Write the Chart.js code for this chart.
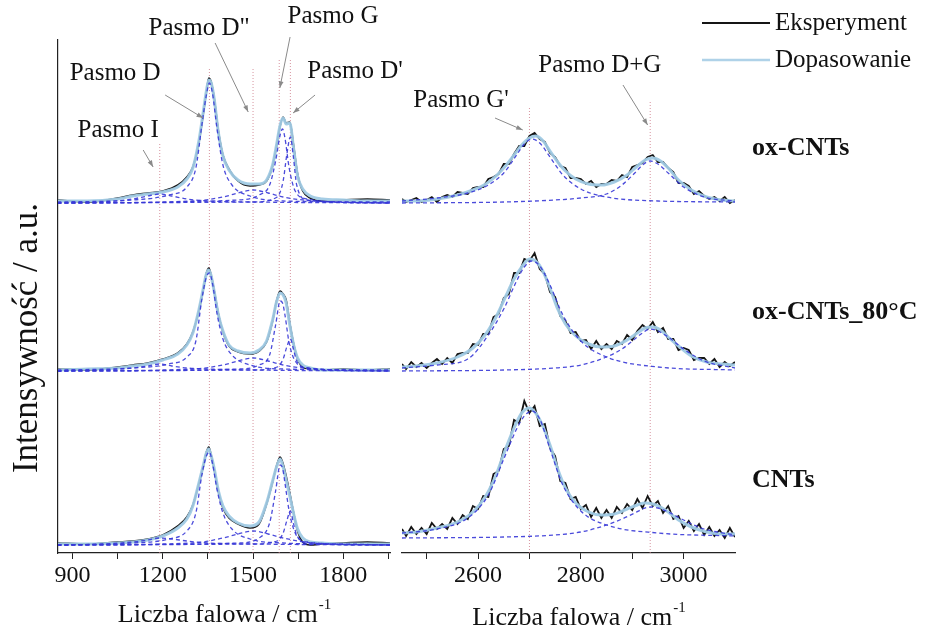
<!DOCTYPE html>
<html>
<head>
<meta charset="utf-8">
<script src="https://cdn.jsdelivr.net/npm/chart.js@4.4.0/dist/chart.umd.min.js"></script>
<style>
  html, body { margin: 0; padding: 0; background: #fff; }
  #wrap { position: relative; width: 930px; height: 631px; overflow: hidden; }
  canvas { position: absolute; top: 0; }
  #cLeft { left: 0; }
  #cRight { left: 390px; }
</style>
</head>
<body>
<div id="wrap">
  <canvas id="cLeft" width="420" height="631"></canvas>
  <canvas id="cRight" width="540" height="631"></canvas>
</div>
<script>
// ---- wavenumber grids ----
const xLeft = [850, 950, 1050, 1100, 1150, 1200, 1250, 1280, 1300, 1320, 1335, 1345, 1353, 1360, 1370, 1385, 1400, 1420, 1450, 1490, 1520, 1545, 1565, 1578, 1590, 1600, 1610, 1622, 1635, 1648, 1665, 1690, 1730, 1800, 1880, 1955];
const xRight = [2452, 2480, 2520, 2560, 2590, 2615, 2635, 2655, 2670, 2685, 2700, 2712, 2725, 2740, 2755, 2770, 2790, 2815, 2840, 2865, 2890, 2910, 2925, 2940, 2955, 2970, 2990, 3015, 3045, 3075, 3100];
const xRightExp = [2452, 2460, 2470, 2480, 2490, 2500, 2510, 2520, 2530, 2540, 2550, 2560, 2570, 2580, 2590, 2600, 2610, 2620, 2630, 2640, 2650, 2660, 2670, 2680, 2690, 2700, 2710, 2720, 2730, 2740, 2750, 2760, 2770, 2780, 2790, 2800, 2810, 2820, 2830, 2840, 2850, 2860, 2870, 2880, 2890, 2900, 2910, 2920, 2930, 2940, 2950, 2960, 2970, 2980, 2990, 3000, 3010, 3020, 3030, 3040, 3050, 3060, 3070, 3080, 3090, 3100];

// ---- spectra, stacked (a.u.): ox-CNTs on top, ox-CNTs_80°C, CNTs ----
const fitLeftOx = [352, 352, 354, 357, 359, 361, 366, 374, 385, 412, 442, 462, 473, 471, 456, 420, 397, 383, 373, 369, 369, 373, 388, 408, 428, 435, 429, 430, 404, 377, 364, 357, 354, 353, 352, 352];
const expLeftOx = [353, 351, 355, 358, 360, 362, 368, 376, 386, 410, 440, 461, 475, 472, 457, 422, 398, 384, 372, 367, 368, 372, 387, 407, 427, 436, 430, 431, 407, 379, 362, 355, 352, 353, 354, 353];
const fitLeft80 = [183, 184, 185, 187, 189, 193, 199, 208, 220, 243, 265, 279, 283, 278, 263, 238, 222, 208, 202, 200, 203, 212, 233, 251, 260, 258, 250, 228, 208, 195, 188, 185, 183, 183, 183, 183];
const expLeft80 = [184, 183, 186, 188, 190, 194, 200, 209, 221, 242, 264, 280, 285, 279, 264, 239, 221, 207, 201, 199, 202, 211, 232, 252, 262, 259, 253, 230, 209, 194, 186, 184, 183, 184, 183, 184];
const fitLeftCnt = [9, 9, 10, 11, 13, 17, 25, 34, 47, 70, 88, 100, 104, 98, 86, 62, 47, 37, 30, 27, 31, 50, 72, 86, 94, 86, 73, 57, 39, 24, 15, 11, 10, 9, 9, 9];
const expLeftCnt = [10, 9, 11, 12, 14, 18, 27, 36, 48, 69, 87, 101, 106, 99, 85, 61, 45, 35, 29, 25, 29, 49, 71, 87, 96, 89, 77, 60, 40, 22, 11, 8, 9, 10, 11, 10];

const fitRightOx = [352, 352, 354, 358, 363, 369, 377, 388, 398, 408, 415, 417, 413, 402, 391, 382, 374, 369, 368, 371, 378, 387, 393, 395, 392, 385, 373, 363, 356, 353, 352];
const fitRight80 = [186, 187, 190, 196, 205, 219, 236, 258, 274, 286, 294, 292, 283, 265, 244, 229, 217, 209, 206, 207, 213, 220, 225, 226, 223, 216, 207, 197, 191, 189, 188];
const fitRightCnt = [20, 21, 25, 31, 41, 57, 78, 106, 125, 140, 145, 140, 128, 108, 84, 65, 50, 41, 38, 39, 44, 48, 50, 49, 46, 41, 33, 26, 21, 19, 19];
const expRightOx = [354, 351, 353, 355, 351, 353, 356, 351, 356, 358, 356, 361, 360, 359, 365, 366, 366, 374, 376, 379, 389, 389, 399, 407, 407, 417, 420, 414, 411, 400, 396, 387, 385, 375, 375, 374, 369, 372, 366, 369, 369, 373, 372, 378, 376, 386, 388, 390, 396, 398, 391, 391, 385, 381, 370, 370, 367, 359, 362, 357, 354, 356, 352, 356, 350, 353];
const expRight80 = [189, 184, 191, 186, 190, 185, 190, 194, 189, 195, 190, 199, 200, 200, 209, 208, 219, 219, 236, 239, 255, 259, 280, 280, 294, 292, 300, 284, 279, 261, 256, 237, 232, 220, 221, 212, 213, 204, 212, 204, 209, 204, 212, 209, 218, 213, 222, 228, 224, 231, 221, 225, 214, 214, 203, 205, 203, 193, 195, 195, 189, 194, 186, 191, 187, 191];
const expRightCnt = [24, 17, 26, 19, 25, 19, 30, 24, 29, 24, 35, 29, 38, 34, 47, 44, 57, 56, 79, 82, 104, 107, 133, 130, 152, 140, 147, 127, 129, 105, 97, 72, 70, 54, 56, 44, 48, 36, 45, 35, 43, 35, 46, 40, 49, 43, 54, 45, 57, 47, 52, 40, 47, 34, 37, 25, 32, 22, 29, 18, 26, 17, 23, 15, 25, 16];

// ---- fitted band components ----
const compXI = [850, 1000, 1100, 1150, 1190, 1230, 1280, 1350, 1500, 1955];
const bandIOx = [350, 351, 354, 357, 359, 357, 354, 352, 351, 350];
const bandI80 = [182, 183, 185, 187, 189, 187, 185, 184, 183, 182];
const bandICnt = [8, 9, 11, 13, 15, 14, 12, 10, 9, 8];
const compXD = [850, 1100, 1220, 1280, 1310, 1330, 1345, 1355, 1365, 1380, 1400, 1430, 1490, 1600, 1955];
const bandDOx = [351, 353, 358, 366, 385, 428, 458, 470, 460, 425, 388, 368, 357, 352, 351];
const bandD80 = [183, 185, 189, 196, 212, 254, 276, 280, 270, 240, 214, 198, 188, 184, 183];
const bandDCnt = [8, 10, 14, 22, 40, 78, 97, 101, 90, 64, 40, 24, 14, 10, 8];
const compXD2 = [850, 1300, 1400, 1450, 1500, 1550, 1600, 1700, 1955];
const bandD2Ox = [350, 352, 356, 360, 363, 360, 356, 352, 350];
const bandD280 = [182, 184, 188, 192, 195, 192, 188, 184, 182];
const bandD2Cnt = [8, 10, 15, 19, 22, 19, 15, 10, 8];
const compXG = [850, 1450, 1520, 1555, 1575, 1590, 1598, 1606, 1620, 1640, 1680, 1800, 1955];
const bandGOx = [350, 353, 358, 368, 392, 418, 424, 415, 385, 362, 354, 351, 350];
const bandG80 = [182, 184, 188, 198, 228, 252, 250, 238, 210, 192, 185, 183, 182];
const bandGCnt = [8, 10, 15, 30, 62, 88, 85, 70, 42, 20, 11, 9, 8];
const compXD1 = [850, 1500, 1580, 1600, 1612, 1624, 1634, 1645, 1680, 1955];
const bandD1Ox = [350, 351, 356, 372, 398, 416, 396, 368, 353, 350];
const bandD180 = [182, 183, 186, 194, 206, 214, 204, 192, 185, 182];
const bandD1Cnt = [8, 9, 12, 20, 32, 42, 30, 18, 10, 8];
const compXG2 = [2452, 2520, 2580, 2620, 2650, 2675, 2690, 2705, 2720, 2740, 2765, 2800, 2850, 2950, 3100];
const bandG2Ox = [352, 355, 360, 368, 380, 398, 409, 414, 410, 396, 378, 364, 356, 352, 351];
const bandG280 = [185, 188, 194, 218, 244, 272, 286, 292, 287, 268, 238, 212, 196, 186, 183];
const bandG2Cnt = [20, 24, 35, 58, 94, 124, 137, 142, 134, 104, 68, 42, 28, 20, 17];
const compXDG = [2452, 2650, 2750, 2800, 2850, 2880, 2905, 2920, 2935, 2950, 2970, 3000, 3040, 3100];
const bandDGOx = [350, 351, 353, 355, 359, 368, 380, 388, 392, 389, 380, 366, 356, 352];
const bandDG80 = [182, 183, 185, 188, 196, 204, 214, 220, 224, 222, 216, 204, 192, 185];
const bandDGCnt = [15, 16, 18, 21, 28, 34, 40, 44, 46, 45, 41, 33, 24, 18];

// ---- band position markers ----
const markLeft = [1190, 1355, 1500, 1587, 1624];
const markLeftTop = [411, 485, 484, 493, 493];
const markRight = [2700, 2935];
const markRightTop = [446, 453];

// ---- axis ticks ----
const ticksLeft = [900, 1050, 1200, 1350, 1500, 1650, 1800, 1950];
const labelsLeft = [900, 1200, 1500, 1800];
const ticksRight = [2500, 2600, 2700, 2800, 2900, 3000];
const labelsRight = [2600, 2800, 3000];

const sampleNames = ['ox-CNTs', 'ox-CNTs_80°C', 'CNTs'];

const FAMILY = '"Liberation Serif", "Times New Roman", serif';
const pts = (xs, ys) => xs.map((x, i) => ({ x, y: ys[i] }));

const FIT = { borderColor: 'rgba(160,202,228,0.95)', borderWidth: 3, order: 1, cubicInterpolationMode: 'monotone' };
const EXP = { borderColor: '#151515', borderWidth: 1.6, order: 2, cubicInterpolationMode: 'monotone' };
const NOISY = { borderColor: '#151515', borderWidth: 1.8, order: 2, tension: 0 };
const COMP = { borderColor: 'rgba(55,55,215,0.9)', borderWidth: 1.3, borderDash: [4, 3], order: 0, cubicInterpolationMode: 'monotone' };
const MARK = { borderColor: 'rgba(205,120,135,0.8)', borderWidth: 1, borderDash: [1, 2], order: 3 };

function ds(xs, ys, style) {
    return Object.assign({ data: pts(xs, ys), pointRadius: 0, fill: false }, style);
}

function markers(xs, tops) {
    return xs.map((x, i) => Object.assign({ data: [{ x, y: 0 }, { x, y: tops[i] }], pointRadius: 0 }, MARK));
}

function arrow(ctx, x0, y0, x1, y1) {
    ctx.beginPath();
    ctx.moveTo(x0, y0);
    ctx.lineTo(x1, y1);
    ctx.stroke();
    const ang = Math.atan2(y1 - y0, x1 - x0), L = 7;
    ctx.beginPath();
    ctx.moveTo(x1, y1);
    ctx.lineTo(x1 - L * Math.cos(ang - 0.35), y1 - L * Math.sin(ang - 0.35));
    ctx.lineTo(x1 - L * Math.cos(ang + 0.35), y1 - L * Math.sin(ang + 0.35));
    ctx.closePath();
    ctx.fill();
}

// band names, arrows, axis titles, legend and sample names
const decor = {
    id: 'decor',
    afterDraw(chart, args, o) {
        const { ctx, chartArea: a, scales: { x, y } } = chart;
        ctx.save();
        ctx.strokeStyle = '#8a8a8a';
        ctx.lineWidth = 1;

        ctx.font = `25px ${FAMILY}`;
        ctx.textAlign = 'center';
        ctx.textBaseline = 'middle';
        for (const n of o.notes) {
            ctx.fillStyle = '#111';
            ctx.fillText(n.text, x.getPixelForValue(n.x), y.getPixelForValue(n.y));
            ctx.fillStyle = '#8a8a8a';
            arrow(ctx, x.getPixelForValue(n.from[0]), y.getPixelForValue(n.from[1]),
                x.getPixelForValue(n.to[0]), y.getPixelForValue(n.to[1]));
        }
        ctx.fillStyle = '#111';

        // x title with superscript
        ctx.textAlign = 'left';
        ctx.textBaseline = 'alphabetic';
        ctx.font = `26px ${FAMILY}`;
        const main = 'Liczba falowa / cm', sup = '-1';
        const w1 = ctx.measureText(main).width;
        ctx.font = `15px ${FAMILY}`;
        const w2 = ctx.measureText(sup).width;
        const x0 = (a.left + a.right) / 2 + o.titleShift - (w1 + w2) / 2;
        ctx.font = `26px ${FAMILY}`;
        ctx.fillText(main, x0, o.titleY);
        ctx.font = `15px ${FAMILY}`;
        ctx.fillText(sup, x0 + w1 + 1, o.titleY - 13);

        if (o.yTitle) {
            ctx.save();
            ctx.translate(o.yTitle.x, o.yTitle.y);
            ctx.rotate(-Math.PI / 2);
            ctx.textAlign = 'center';
            ctx.textBaseline = 'middle';
            ctx.font = `35px ${FAMILY}`;
            ctx.fillText(o.yTitle.text, 0, 0);
            ctx.restore();
        }

        if (o.legend) {
            ctx.textAlign = 'left';
            ctx.textBaseline = 'middle';
            ctx.font = `25px ${FAMILY}`;
            o.legend.forEach((l) => {
                ctx.strokeStyle = l.color;
                ctx.lineWidth = l.width;
                ctx.beginPath();
                ctx.moveTo(l.x0, l.y);
                ctx.lineTo(l.x1, l.y);
                ctx.stroke();
                ctx.fillStyle = '#111';
                ctx.fillText(l.text, l.x1 + 5, l.y);
            });
        }

        if (o.samples) {
            ctx.textAlign = 'left';
            ctx.textBaseline = 'middle';
            ctx.font = `bold 26px ${FAMILY}`;
            o.samples.forEach((s, i) => {
                ctx.fillText(sampleNames[i], o.samplesX, y.getPixelForValue(s));
            });
        }
        ctx.restore();
    }
};

function scalesFor(min, max, ticks, labels, yBorder) {
    return {
        x: {
            type: 'linear',
            min, max,
            afterBuildTicks: (s) => { s.ticks = ticks.map((v) => ({ value: v })); },
            afterFit: (s) => { s.height = 78; },
            grid: { display: true, drawOnChartArea: false, drawTicks: true, tickLength: 6, color: '#222' },
            border: { display: true, color: '#222', width: 1.2 },
            ticks: {
                autoSkip: false,
                maxRotation: 0,
                padding: 2,
                color: '#111',
                font: { family: FAMILY, size: 24 },
                callback: (v) => (labels.includes(v) ? String(v) : '')
            }
        },
        y: {
            min: 0, max: 513,
            display: yBorder,
            afterFit: (s) => { s.width = 0; },
            ticks: { display: false },
            grid: { display: false },
            border: { display: yBorder, color: '#222', width: 1.2 }
        }
    };
}

const leftDatasets = [
    ds(xLeft, fitLeftOx, FIT), ds(xLeft, expLeftOx, EXP),
    ds(xLeft, fitLeft80, FIT), ds(xLeft, expLeft80, EXP),
    ds(xLeft, fitLeftCnt, FIT), ds(xLeft, expLeftCnt, EXP),
    ds(compXI, bandIOx, COMP), ds(compXI, bandI80, COMP), ds(compXI, bandICnt, COMP),
    ds(compXD, bandDOx, COMP), ds(compXD, bandD80, COMP), ds(compXD, bandDCnt, COMP),
    ds(compXD2, bandD2Ox, COMP), ds(compXD2, bandD280, COMP), ds(compXD2, bandD2Cnt, COMP),
    ds(compXG, bandGOx, COMP), ds(compXG, bandG80, COMP), ds(compXG, bandGCnt, COMP),
    ds(compXD1, bandD1Ox, COMP), ds(compXD1, bandD180, COMP), ds(compXD1, bandD1Cnt, COMP),
    ...markers(markLeft, markLeftTop)
];

const rightDatasets = [
    ds(xRight, fitRightOx, FIT), ds(xRightExp, expRightOx, NOISY),
    ds(xRight, fitRight80, FIT), ds(xRightExp, expRight80, NOISY),
    ds(xRight, fitRightCnt, FIT), ds(xRightExp, expRightCnt, NOISY),
    ds(compXG2, bandG2Ox, COMP), ds(compXG2, bandG280, COMP), ds(compXG2, bandG2Cnt, COMP),
    ds(compXDG, bandDGOx, COMP), ds(compXDG, bandDG80, COMP), ds(compXDG, bandDGCnt, COMP),
    ...markers(markRight, markRightTop)
];

Chart.defaults.animation = false;

new Chart(document.getElementById('cLeft'), {
    type: 'line',
    data: { datasets: leftDatasets },
    plugins: [decor],
    options: {
        responsive: false,
        layout: { padding: { left: 58, right: 30, top: 40, bottom: 0 } },
        plugins: {
            legend: { display: false },
            tooltip: { enabled: false },
            decor: {
                titleY: 622,
                titleShift: 0,
                yTitle: { text: 'Intensywność / a.u.', x: 28, y: 338 },
                notes: [
                    { text: 'Pasmo I', x: 1052, y: 423, from: [1135, 403], to: [1168, 386] },
                    { text: 'Pasmo D', x: 1042, y: 480, from: [1208, 458], to: [1334, 435] },
                    { text: 'Pasmo D"', x: 1321, y: 525, from: [1374, 510], to: [1484, 441] },
                    { text: 'Pasmo G', x: 1766, y: 537, from: [1623, 516], to: [1589, 465] },
                    { text: "Pasmo D'", x: 1839, y: 482, from: [1706, 458], to: [1633, 440] }
                ]
            }
        },
        scales: scalesFor(852, 1955, ticksLeft, labelsLeft, true)
    }
});

new Chart(document.getElementById('cRight'), {
    type: 'line',
    data: { datasets: rightDatasets },
    plugins: [decor],
    options: {
        responsive: false,
        layout: { padding: { left: 12, right: 195, top: 40, bottom: 0 } },
        plugins: {
            legend: { display: false },
            tooltip: { enabled: false },
            decor: {
                titleY: 625,
                titleShift: 10,
                notes: [
                    { text: "Pasmo G'", x: 2567, y: 453, from: [2633, 435], to: [2687, 423] },
                    { text: 'Pasmo D+G', x: 2837, y: 488, from: [2882, 468], to: [2930, 428] }
                ],
                legend: [
                    { text: 'Eksperyment', color: '#151515', width: 2, x0: 312, x1: 380, y: 23 },
                    { text: 'Dopasowanie', color: 'rgba(175,210,232,1)', width: 2.5, x0: 312, x1: 380, y: 60 }
                ],
                samples: [405, 241, 73],
                samplesX: 362
            }
        },
        scales: scalesFor(2452, 3100, ticksRight, labelsRight, false)
    }
});
</script>
</body>
</html>
